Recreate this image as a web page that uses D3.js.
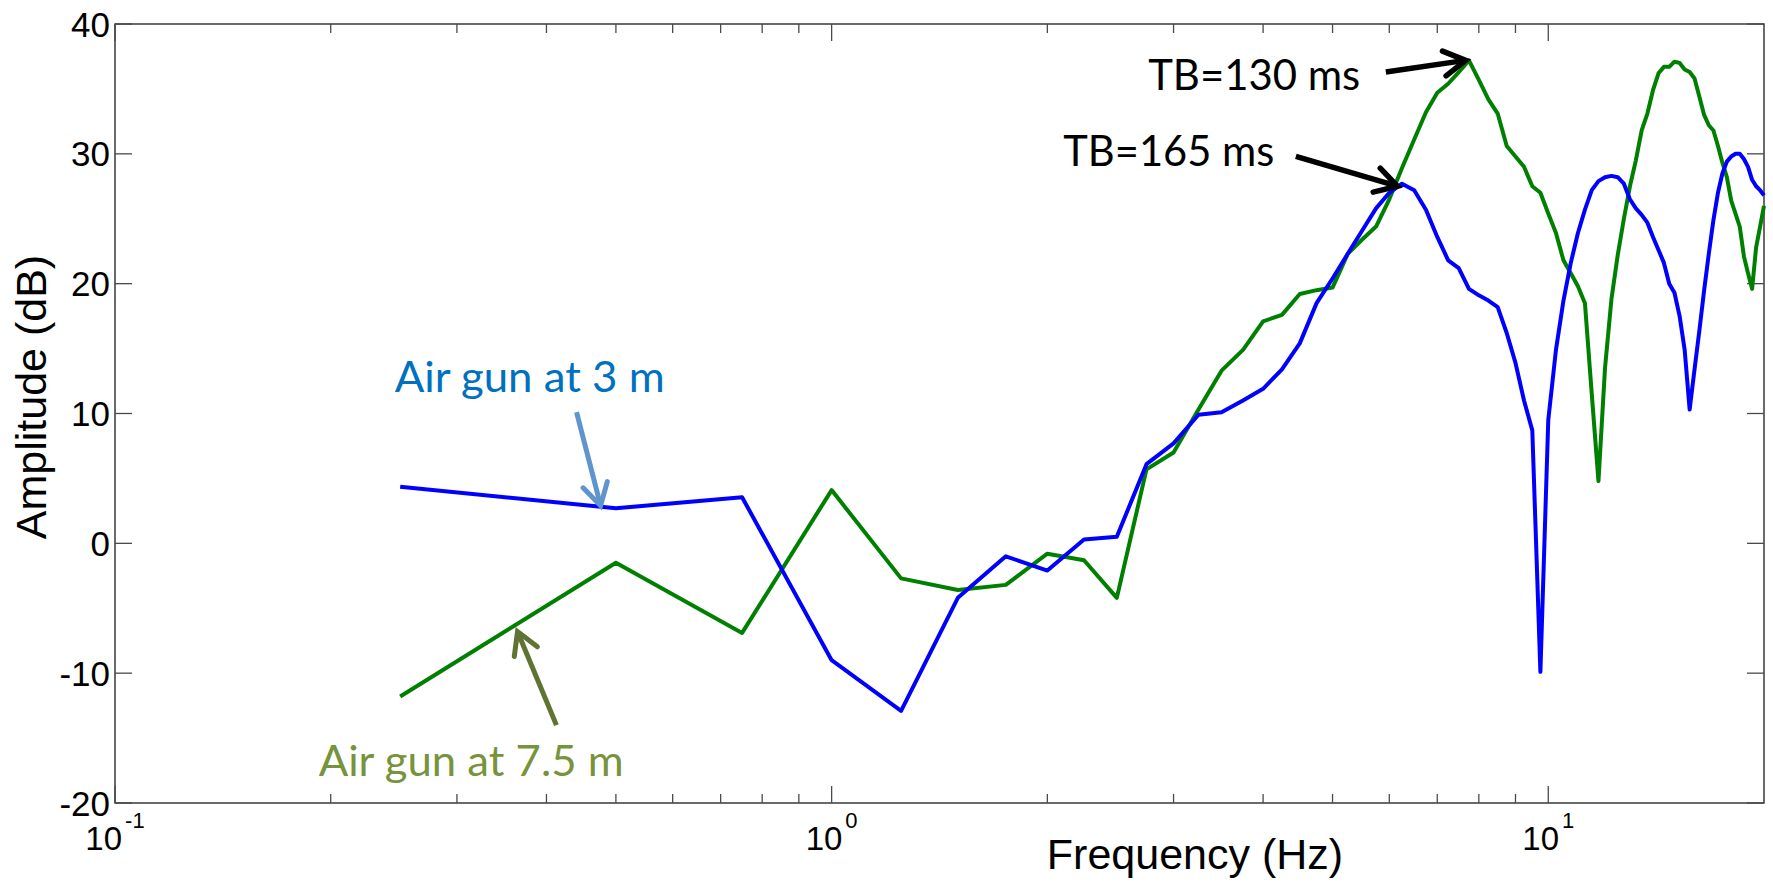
<!DOCTYPE html>
<html>
<head>
<meta charset="utf-8">
<script src="https://cdn.jsdelivr.net/npm/d3@7"></script>
<style>
  body { margin: 0; background: #fff; }
  svg { display: block; }
</style>
</head>
<body>
<svg id="chart" width="1773" height="882"></svg>
<script>
// Spectrum frequencies (Hz), 0.25 Hz bins
const frequency = [
  0.25, 0.5, 0.75, 1.0, 1.25, 1.5, 1.75, 2.0, 2.25, 2.5,
  2.75, 3.0, 3.25, 3.5, 3.75, 4.0, 4.25, 4.5, 4.75, 5.0,
  5.25, 5.5, 5.75, 6.0, 6.25, 6.5, 6.75, 7.0, 7.25, 7.5,
  7.75, 8.0, 8.25, 8.5, 8.75, 9.0, 9.25, 9.5, 9.75, 10.0,
  10.25, 10.5, 10.75, 11.0, 11.25, 11.5, 11.75, 12.0, 12.25, 12.5,
  12.75, 13.0, 13.25, 13.5, 13.75, 14.0, 14.25, 14.5, 14.75, 15.0,
  15.25, 15.5, 15.75, 16.0, 16.25, 16.5, 16.75, 17.0, 17.25, 17.5,
  17.75, 18.0, 18.25, 18.5, 18.75, 19.0, 19.25, 19.5, 19.75, 20.0
];

// Amplitude (dB), air gun at 3 m
const airGun3m = [
  4.35, 2.7, 3.55, -9.0, -12.9, -4.2, -1.0, -2.1, 0.3, 0.5,
  6.1, 7.7, 9.9, 10.1, 11.0, 11.9, 13.4, 15.4, 18.5, 20.4,
  22.3, 24.1, 25.8, 27.0, 27.7, 27.2, 25.7, 23.6, 21.8, 21.2,
  19.6, 19.1, 18.7, 18.2, 16.2, 13.9, 11.0, 8.7, -9.9, 9.5,
  14.9, 18.7, 21.6, 23.9, 25.7, 27.2, 27.9, 28.2, 28.3, 28.2,
  27.7, 26.5, 25.8, 25.3, 24.7, 23.6, 22.6, 21.6, 20.0, 19.3,
  17.5, 14.9, 10.3, 13.4, 16.4, 19.5, 22.3, 24.9, 27.0, 28.5,
  29.4, 29.8, 30.0, 30.0, 29.6, 29.0, 28.0, 27.5, 27.2, 26.8
];

// Amplitude (dB), air gun at 7.5 m
const airGun7_5m = [
  -11.8, -1.5, -6.9, 4.1, -2.7, -3.6, -3.2, -0.8, -1.3, -4.2,
  5.7, 7.0, 10.3, 13.3, 14.9, 17.1, 17.6, 19.2, 19.5, 19.7,
  22.3, 23.4, 24.4, 26.5, 28.9, 31.1, 33.2, 34.7, 35.4, 36.3,
  37.2, 35.7, 34.2, 33.1, 30.6, 29.8, 29.0, 27.5, 27.0, 25.4,
  23.9, 21.8, 20.8, 19.8, 18.5, 11.5, 4.8, 13.5, 18.8, 22.2,
  25.0, 27.5, 29.5, 31.8, 33.1, 34.9, 36.2, 36.7, 36.7, 37.1,
  37.0, 36.5, 36.3, 35.8, 34.4, 33.0, 32.2, 31.8, 30.6, 29.3,
  28.2, 26.4, 25.4, 24.4, 22.1, 20.8, 19.6, 22.8, 24.4, 26.0
];

// Axis ticks
const xMajorTicks = [0.1, 1, 10];
const xMajorExponents = ["-1", "0", "1"];
const xMinorTicks = [0.2, 0.3, 0.4, 0.5, 0.6, 0.7, 0.8, 0.9, 2, 3, 4, 5, 6, 7, 8, 9];
const yTicks = [-20, -10, 0, 10, 20, 30, 40];
const xDomain = [0.1, 20];
const yDomain = [-20, 40];

// Callouts: text anchored at (f, dB); arrow from tail to tip in data units
const callouts = [
  { text: "Air gun at 3 m",   tf: 0.2456, tv: 11.66, width: 270, color: "#0070C0",
    arrow: { from: [0.4406, 10.1], to: [0.476, 2.9], color: "#5F95CF" } },
  { text: "Air gun at 7.5 m", tf: 0.1924, tv: -17.9, width: 305, color: "#77933C",
    arrow: { from: [0.413, -14.0], to: [0.3645, -6.8], color: "#5F7433" } },
  { text: "TB=130 ms",        tf: 2.765,  tv: 34.9,  width: 212, color: "#000000",
    arrow: { from: [5.934, 36.3], to: [7.67, 37.2], color: "#000000" } },
  { text: "TB=165 ms",        tf: 2.105,  tv: 29.06, width: 211, color: "#000000",
    arrow: { from: [4.444, 29.8], to: [6.16, 27.5], color: "#000000" } }
];

const W = 1773, H = 882;
const plot = { left: 115, right: 1764, top: 24, bottom: 803 };
const axisFont = "'Liberation Sans', Arial, Helvetica, sans-serif";
const noteFont = "Lato, 'Open Sans', sans-serif";

const svg = d3.select("#chart");
svg.append("rect").attr("width", W).attr("height", H).attr("fill", "#fff");

const x = d3.scaleLog().domain(xDomain).range([plot.left, plot.right]);
const y = d3.scaleLinear().domain(yDomain).range([plot.bottom, plot.top]);

const axisColor = "#2b2b2b";
const tickColor = "#4a4a4a";
const majorLen = 17, minorLen = 9;

// Frame
svg.append("rect")
  .attr("x", plot.left).attr("y", plot.top)
  .attr("width", plot.right - plot.left).attr("height", plot.bottom - plot.top)
  .attr("fill", "none").attr("stroke", axisColor).attr("stroke-width", 1.4);

const ticks = svg.append("g").attr("stroke", tickColor).attr("stroke-width", 1.3);

// X ticks, inward on bottom and top
function xTick(v, len) {
  const px = x(v);
  ticks.append("line").attr("x1", px).attr("x2", px)
    .attr("y1", plot.bottom).attr("y2", plot.bottom - len);
  ticks.append("line").attr("x1", px).attr("x2", px)
    .attr("y1", plot.top).attr("y2", plot.top + len);
}
xMajorTicks.forEach(v => xTick(v, majorLen));
xMinorTicks.forEach(v => xTick(v, minorLen));

// Y ticks, inward on left and right
yTicks.forEach(v => {
  const py = y(v);
  ticks.append("line").attr("x1", plot.left).attr("x2", plot.left + majorLen)
    .attr("y1", py).attr("y2", py);
  ticks.append("line").attr("x1", plot.right).attr("x2", plot.right - majorLen)
    .attr("y1", py).attr("y2", py);
});

// Y tick labels
svg.append("g").selectAll("text").data(yTicks).join("text")
  .attr("x", plot.left - 5)
  .attr("y", d => y(d))
  .attr("dy", "0.36em")
  .attr("text-anchor", "end")
  .attr("font-family", axisFont)
  .attr("font-size", 35)
  .attr("fill", "#000")
  .text(d => d);

// X tick labels as powers of ten
const xl = svg.append("g").selectAll("text").data(xMajorTicks).join("text")
  .attr("x", d => x(d))
  .attr("y", 850)
  .attr("text-anchor", "middle")
  .attr("font-family", axisFont)
  .attr("font-size", 33)
  .attr("fill", "#000");
xl.append("tspan").text("10");
xl.append("tspan")
  .attr("dx", 3)
  .attr("dy", -22)
  .attr("font-size", 22)
  .text((d, i) => xMajorExponents[i]);

// Axis titles
svg.append("text")
  .attr("x", 1195).attr("y", 869)
  .attr("text-anchor", "middle")
  .attr("font-family", axisFont)
  .attr("font-size", 43)
  .attr("fill", "#000")
  .text("Frequency (Hz)");

svg.append("text")
  .attr("transform", "translate(46,397) rotate(-90)")
  .attr("text-anchor", "middle")
  .attr("font-family", axisFont)
  .attr("font-size", 43)
  .attr("fill", "#000")
  .text("Amplitude (dB)");

// Spectra
const line = d3.line()
  .x(d => x(d[0]))
  .y(d => y(d[1]));

const series = [
  { values: airGun7_5m, color: "#008000" },
  { values: airGun3m,   color: "#0000FF" }
];

svg.append("g").selectAll("path").data(series).join("path")
  .attr("d", s => line(frequency.map((f, i) => [f, s.values[i]])))
  .attr("fill", "none")
  .attr("stroke", s => s.color)
  .attr("stroke-width", 4)
  .attr("stroke-linejoin", "round");

// Callouts
const notes = svg.append("g");
callouts.forEach(c => {
  const [x0, y0] = [x(c.arrow.from[0]), y(c.arrow.from[1])];
  const [x1, y1] = [x(c.arrow.to[0]), y(c.arrow.to[1])];
  const ang = Math.atan2(y1 - y0, x1 - x0);
  const headLen = 25, spread = Math.PI / 6;
  const sw = c.arrow.color === "#000000" ? 5.5 : 5;
  notes.append("line")
    .attr("x1", x0).attr("y1", y0)
    .attr("x2", x1 - Math.cos(ang) * 2).attr("y2", y1 - Math.sin(ang) * 2)
    .attr("stroke", c.arrow.color).attr("stroke-width", sw);
  const a1 = [x1 - headLen * Math.cos(ang - spread), y1 - headLen * Math.sin(ang - spread)];
  const a2 = [x1 - headLen * Math.cos(ang + spread), y1 - headLen * Math.sin(ang + spread)];
  notes.append("path")
    .attr("d", `M${a1[0]},${a1[1]}L${x1},${y1}L${a2[0]},${a2[1]}`)
    .attr("fill", "none")
    .attr("stroke", c.arrow.color).attr("stroke-width", sw)
    .attr("stroke-linejoin", "miter").attr("stroke-linecap", "round");

  notes.append("text")
    .attr("x", x(c.tf)).attr("y", y(c.tv))
    .attr("font-family", noteFont)
    .attr("font-size", 42)
    .attr("fill", c.color)
    .attr("textLength", c.width)
    .attr("lengthAdjust", "spacingAndGlyphs")
    .text(c.text);
});
</script>
</body>
</html>
